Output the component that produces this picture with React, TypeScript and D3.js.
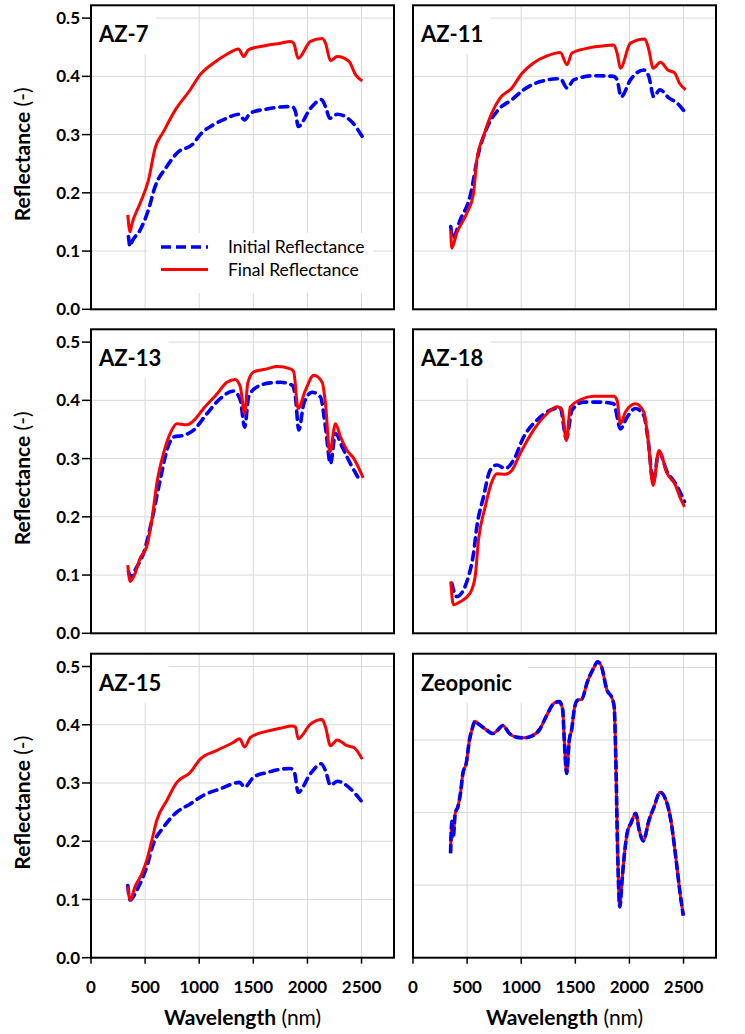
import React from "react";
import * as d3 from "d3";

type Pt = [number, number];

// wavelength (nm), reflectance (-)
const az7Initial: Pt[] = [[346,0.125],[361,0.108],[376,0.115],[454,0.136],[531,0.171],[593,0.211],[700,0.245],[793,0.268],[948,0.285],[1009,0.300],[1133,0.317],[1256,0.328],[1364,0.335],[1420,0.325],[1472,0.337],[1627,0.344],[1812,0.348],[1858,0.348],[1889,0.340],[1914,0.314],[2028,0.345],[2130,0.360],[2167,0.348],[2207,0.328],[2275,0.335],[2414,0.321],[2506,0.297]];
const az7Final: Pt[] = [[340,0.162],[361,0.133],[376,0.145],[454,0.182],[531,0.222],[593,0.277],[670,0.305],[778,0.342],[917,0.377],[1009,0.403],[1133,0.423],[1256,0.438],[1364,0.447],[1410,0.434],[1457,0.446],[1596,0.452],[1750,0.457],[1843,0.460],[1873,0.457],[1914,0.431],[2028,0.460],[2136,0.465],[2167,0.457],[2213,0.427],[2275,0.434],[2383,0.426],[2444,0.403],[2506,0.392]];

const az11Initial: Pt[] = [[349,0.142],[368,0.122],[435,0.153],[528,0.194],[605,0.268],[682,0.311],[790,0.343],[914,0.360],[1022,0.377],[1176,0.391],[1361,0.396],[1423,0.380],[1485,0.394],[1670,0.401],[1855,0.400],[1886,0.394],[1923,0.365],[2009,0.394],[2133,0.411],[2179,0.400],[2225,0.365],[2281,0.377],[2364,0.363],[2441,0.354],[2519,0.337]];
const az11Final: Pt[] = [[349,0.136],[358,0.105],[404,0.131],[497,0.165],[559,0.199],[590,0.257],[651,0.297],[728,0.337],[806,0.363],[914,0.380],[1006,0.405],[1114,0.423],[1238,0.435],[1361,0.441],[1423,0.420],[1469,0.440],[1608,0.448],[1793,0.453],[1855,0.454],[1886,0.440],[1917,0.414],[2009,0.457],[2142,0.464],[2179,0.446],[2219,0.414],[2287,0.424],[2355,0.411],[2417,0.406],[2463,0.388],[2519,0.377]];

const az13Initial: Pt[] = [[346,0.106],[367,0.097],[423,0.114],[485,0.137],[562,0.194],[639,0.263],[701,0.314],[762,0.337],[855,0.340],[948,0.349],[1071,0.377],[1194,0.403],[1318,0.416],[1380,0.400],[1420,0.354],[1457,0.406],[1534,0.423],[1657,0.430],[1750,0.431],[1858,0.426],[1889,0.406],[1920,0.349],[1966,0.394],[2043,0.414],[2120,0.406],[2167,0.354],[2213,0.291],[2259,0.343],[2321,0.320],[2398,0.291],[2491,0.260]];
const az13Final: Pt[] = [[340,0.117],[361,0.089],[407,0.103],[454,0.129],[515,0.149],[562,0.194],[608,0.257],[670,0.309],[731,0.343],[793,0.360],[886,0.358],[948,0.365],[1040,0.386],[1164,0.411],[1256,0.431],[1333,0.436],[1380,0.423],[1420,0.377],[1448,0.429],[1503,0.449],[1627,0.454],[1719,0.458],[1843,0.454],[1873,0.449],[1914,0.386],[1981,0.417],[2059,0.443],[2136,0.431],[2167,0.394],[2207,0.311],[2259,0.360],[2306,0.337],[2367,0.314],[2429,0.300],[2515,0.267]];

const az18Initial: Pt[] = [[358,0.086],[404,0.063],[512,0.097],[559,0.137],[590,0.183],[651,0.234],[713,0.280],[775,0.289],[852,0.283],[929,0.297],[1022,0.337],[1145,0.366],[1268,0.383],[1361,0.387],[1417,0.334],[1469,0.383],[1577,0.397],[1731,0.397],[1855,0.394],[1917,0.351],[1978,0.371],[2056,0.386],[2133,0.374],[2173,0.331],[2219,0.260],[2272,0.311],[2349,0.277],[2426,0.257],[2509,0.226]];
const az18Final: Pt[] = [[349,0.089],[373,0.049],[435,0.054],[528,0.069],[574,0.097],[605,0.160],[667,0.217],[728,0.260],[775,0.274],[852,0.273],[914,0.280],[991,0.309],[1114,0.349],[1238,0.377],[1330,0.389],[1377,0.383],[1417,0.331],[1454,0.389],[1546,0.401],[1670,0.407],[1855,0.407],[1886,0.400],[1917,0.360],[1963,0.380],[2056,0.394],[2133,0.380],[2173,0.331],[2219,0.254],[2272,0.314],[2349,0.274],[2426,0.254],[2466,0.234],[2509,0.217]];

const az15Initial: Pt[] = [[340,0.124],[361,0.099],[423,0.116],[515,0.156],[577,0.196],[670,0.224],[793,0.250],[917,0.264],[1040,0.279],[1194,0.290],[1373,0.301],[1420,0.293],[1503,0.310],[1627,0.318],[1843,0.325],[1880,0.318],[1914,0.284],[2028,0.316],[2127,0.333],[2167,0.321],[2213,0.296],[2275,0.303],[2398,0.290],[2506,0.267]];
const az15Final: Pt[] = [[340,0.122],[361,0.099],[407,0.122],[469,0.144],[515,0.167],[562,0.201],[608,0.236],[701,0.270],[793,0.301],[917,0.318],[1009,0.341],[1164,0.356],[1318,0.370],[1373,0.376],[1420,0.362],[1472,0.378],[1627,0.389],[1750,0.394],[1858,0.398],[1889,0.396],[1914,0.376],[2028,0.401],[2136,0.409],[2167,0.396],[2213,0.364],[2275,0.374],[2367,0.364],[2429,0.361],[2506,0.341]];

// zeoponic: initial and final coincide
const zeoponic: Pt[] = [[347,0.144],[360,0.188],[372,0.167],[390,0.199],[415,0.208],[439,0.227],[461,0.254],[492,0.268],[522,0.300],[544,0.314],[575,0.326],[599,0.323],[661,0.316],[738,0.309],[784,0.314],[830,0.320],[891,0.309],[953,0.304],[1029,0.303],[1091,0.305],[1168,0.314],[1229,0.332],[1306,0.351],[1352,0.353],[1383,0.342],[1398,0.300],[1420,0.254],[1444,0.300],[1466,0.314],[1490,0.342],[1521,0.355],[1558,0.356],[1613,0.381],[1669,0.399],[1706,0.408],[1742,0.401],[1792,0.369],[1838,0.358],[1859,0.346],[1875,0.268],[1890,0.153],[1911,0.070],[1930,0.103],[1951,0.139],[1982,0.174],[2013,0.185],[2059,0.199],[2090,0.176],[2127,0.161],[2182,0.190],[2228,0.208],[2283,0.228],[2351,0.211],[2382,0.190],[2428,0.139],[2468,0.089],[2498,0.058]];

const xTicks = [0, 500, 1000, 1500, 2000, 2500];
const yTicks = [0.0, 0.1, 0.2, 0.3, 0.4, 0.5];
const zeoGrid = [0.1, 0.2, 0.3, 0.4];

const panels = [
  { name: "AZ-7", initial: az7Initial, final: az7Final, col: 0, row: 0, yMax: 0.522, grid: yTicks.slice(1), legend: true, blueTop: false },
  { name: "AZ-11", initial: az11Initial, final: az11Final, col: 1, row: 0, yMax: 0.522, grid: yTicks.slice(1), legend: false, blueTop: false },
  { name: "AZ-13", initial: az13Initial, final: az13Final, col: 0, row: 1, yMax: 0.522, grid: yTicks.slice(1), legend: false, blueTop: false },
  { name: "AZ-18", initial: az18Initial, final: az18Final, col: 1, row: 1, yMax: 0.522, grid: yTicks.slice(1), legend: false, blueTop: false },
  { name: "AZ-15", initial: az15Initial, final: az15Final, col: 0, row: 2, yMax: 0.522, grid: yTicks.slice(1), legend: false, blueTop: false },
  { name: "Zeoponic", initial: zeoponic, final: zeoponic, col: 1, row: 2, yMax: 0.419, grid: zeoGrid, legend: false, blueTop: true },
];

const colLeft = [91, 413];
const rowBottom = [309.3, 633.3, 957.7];
const plotW = 303;
const plotH = 304;
const font = "Lato, 'Open Sans', sans-serif";
const blue = "#0000ff";
const red = "#ff0000";

function Panel({ p }: { p: (typeof panels)[number] }) {
  const x0 = colLeft[p.col];
  const y0 = rowBottom[p.row];
  const x = d3.scaleLinear().domain([0, 2800]).range([x0, x0 + plotW]);
  const y = d3.scaleLinear().domain([0, p.yMax]).range([y0, y0 - plotH]);
  const line = d3
    .line<Pt>()
    .x((d) => x(d[0]))
    .y((d) => y(d[1]))
    .curve(d3.curveMonotoneX);

  const top = y0 - plotH;
  const labelW = p.name.length * 12.5 + 14;

  const blueLine = (
    <path d={line(p.initial) || ""} fill="none" stroke={blue} strokeWidth={3.6}
      strokeDasharray={p.blueTop ? "9,3" : "8,6"} strokeLinecap={p.blueTop ? "butt" : "round"} strokeLinejoin="round" />
  );
  const redLine = (
    <path d={line(p.final) || ""} fill="none" stroke={red} strokeWidth={3} strokeLinejoin="round" />
  );

  return (
    <g>
      {xTicks.slice(1).map((t) => (
        <line key={"vx" + t} x1={x(t)} x2={x(t)} y1={top} y2={y0} stroke="#d9d9d9" strokeWidth={1} />
      ))}
      {p.grid.map((t) => (
        <line key={"hy" + t} x1={x0} x2={x0 + plotW} y1={y(t)} y2={y(t)} stroke="#d9d9d9" strokeWidth={1} />
      ))}
      <rect x={x0 + 1} y={top + 1} width={labelW} height={48} fill="#fff" />
      <text x={x0 + 8} y={top + 37} fontFamily={font} fontWeight="bold" fontSize={22} fill="#000">
        {p.name}
      </text>
      {p.legend && (
        <g>
          <rect x={147} y={233} width={226} height={60} fill="#fff" />
          <line x1={161} x2={208} y1={247} y2={247} stroke={blue} strokeWidth={3.6} strokeDasharray="10,5" />
          <line x1={161} x2={208} y1={269.5} y2={269.5} stroke={red} strokeWidth={3} />
          <text x={228} y={253} fontFamily={font} fontSize={17.5} fill="#000">Initial Reflectance</text>
          <text x={228} y={275.5} fontFamily={font} fontSize={17.5} fill="#000">Final Reflectance</text>
        </g>
      )}
      {p.blueTop ? redLine : blueLine}
      {p.blueTop ? blueLine : redLine}
      <rect x={x0} y={top} width={plotW} height={plotH} fill="none" stroke="#000" strokeWidth={2} />
      {p.col === 0 &&
        yTicks.map((t) => (
          <g key={"yt" + t}>
            <line x1={x0 - 9} x2={x0} y1={y(t)} y2={y(t)} stroke="#000" strokeWidth={1.5} />
            <text x={x0 - 11} y={y(t)} dy="0.36em" textAnchor="end" fontFamily={font} fontWeight="bold" fontSize={17} fill="#000">
              {t.toFixed(1)}
            </text>
          </g>
        ))}
      {p.col === 0 && (
        <text transform={`translate(22,${y0 - plotH / 2 - 3}) rotate(-90)`} dy="0.36em" textAnchor="middle" fontFamily={font} fontSize={21} fill="#000">
          <tspan fontWeight="bold">Reflectance</tspan> (-)
        </text>
      )}
      {p.row === 2 &&
        xTicks.map((t) => (
          <g key={"xt" + t}>
            <line x1={x(t)} x2={x(t)} y1={y0} y2={y0 + 6} stroke="#000" strokeWidth={1.5} />
            <text x={x(t)} y={993} textAnchor="middle" fontFamily={font} fontWeight="bold" fontSize={17} fill="#000">
              {t}
            </text>
          </g>
        ))}
      {p.row === 2 && (
        <text x={x0 + plotW / 2} y={1025} textAnchor="middle" fontFamily={font} fontSize={21} fill="#000">
          <tspan fontWeight="bold">Wavelength</tspan> (nm)
        </text>
      )}
    </g>
  );
}

export default function App() {
  return (
    <svg width={745} height={1034} style={{ position: "absolute", left: 0, top: 0, background: "#fff" }}>
      <rect width={745} height={1034} fill="#fff" />
      {panels.map((p) => (
        <Panel key={p.name} p={p} />
      ))}
    </svg>
  );
}
